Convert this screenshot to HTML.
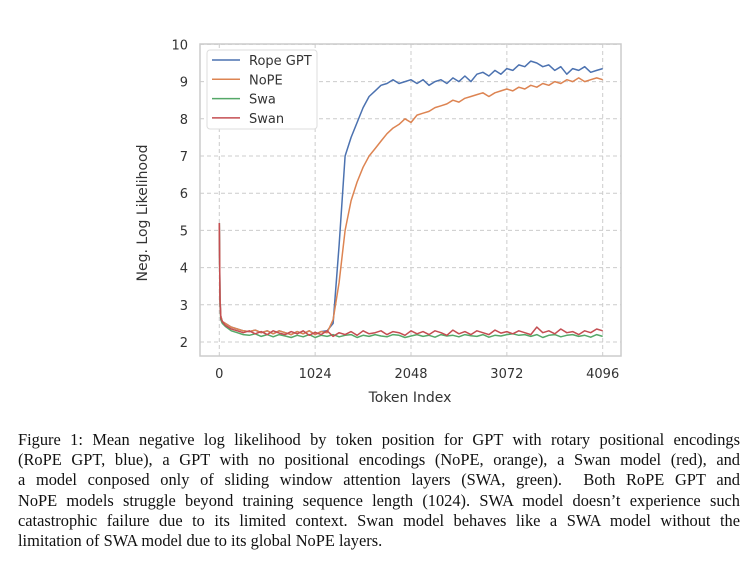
<!DOCTYPE html>
<html><head><meta charset="utf-8"><style>
body{margin:0;width:750px;height:563px;background:#fff;overflow:hidden;position:relative}
#cap{position:absolute;left:18px;top:430px;width:722px;font-family:"Liberation Serif",serif;font-size:16.4px;line-height:20.2px;color:#111}
#cap div{text-align:justify;text-align-last:justify;white-space:nowrap;overflow:visible}
#cap div.last{text-align-last:left}
</style></head><body>
<svg id="chart" width="750" height="420" style="position:absolute;left:0;top:0" font-family="DejaVu Sans, Liberation Sans, sans-serif"></svg>
<div id="cap">
<div>Figure 1: Mean negative log likelihood by token position for GPT with rotary positional encodings</div>
<div>(RoPE GPT, blue), a GPT with no positional encodings (NoPE, orange), a Swan model (red), and</div>
<div>a model conposed only of sliding window attention layers (SWA, green). &nbsp;Both RoPE GPT and</div>
<div>NoPE models struggle beyond training sequence length (1024). SWA model doesn’t experience such</div>
<div>catastrophic failure due to its limited context. Swan model behaves like a SWA model without the</div>
<div class="last">limitation of SWA model due to its global NoPE layers.</div>
</div>
<script>
const tokens=[0,8,16,32,64,128,192,256,320,384,448,512,576,640,704,768,832,896,960,1024,1088,1152,1216,1280,1344,1408,1472,1536,1600,1664,1728,1792,1856,1920,1984,2048,2112,2176,2240,2304,2368,2432,2496,2560,2624,2688,2752,2816,2880,2944,3008,3072,3136,3200,3264,3328,3392,3456,3520,3584,3648,3712,3776,3840,3904,3968,4032,4096];
const rope=[5.2,3.2,2.7,2.55,2.5,2.4,2.35,2.3,2.28,2.32,2.25,2.3,2.22,2.3,2.25,2.2,2.28,2.22,2.3,2.2,2.28,2.3,2.5,4.6,7.0,7.5,7.9,8.3,8.6,8.75,8.9,8.95,9.05,8.95,9.0,9.05,8.95,9.05,8.9,9.0,9.05,8.95,9.1,9.0,9.15,9.0,9.2,9.25,9.15,9.3,9.2,9.35,9.3,9.45,9.4,9.55,9.5,9.4,9.45,9.3,9.4,9.2,9.35,9.3,9.4,9.25,9.3,9.35];
const nope=[5.2,3.2,2.7,2.55,2.5,2.4,2.35,2.3,2.28,2.32,2.25,2.3,2.22,2.3,2.25,2.2,2.28,2.22,2.3,2.2,2.28,2.25,2.6,3.6,5.0,5.8,6.3,6.7,7.0,7.2,7.4,7.6,7.75,7.85,8.0,7.9,8.1,8.15,8.2,8.3,8.35,8.4,8.5,8.45,8.55,8.6,8.65,8.7,8.6,8.7,8.75,8.8,8.75,8.85,8.8,8.9,8.85,8.95,8.9,9.0,8.95,9.05,9.0,9.1,9.0,9.05,9.1,9.05];
const swa=[5.2,3.0,2.6,2.5,2.42,2.3,2.25,2.2,2.18,2.22,2.15,2.2,2.14,2.2,2.16,2.12,2.18,2.14,2.2,2.12,2.18,2.15,2.2,2.14,2.18,2.2,2.12,2.18,2.15,2.2,2.16,2.14,2.2,2.18,2.12,2.16,2.2,2.15,2.18,2.13,2.2,2.16,2.18,2.14,2.2,2.17,2.15,2.2,2.13,2.18,2.16,2.2,2.22,2.18,2.2,2.15,2.2,2.12,2.18,2.2,2.14,2.18,2.2,2.15,2.18,2.13,2.2,2.15];
const swan=[5.2,3.1,2.65,2.55,2.45,2.35,2.3,2.25,2.3,2.22,2.28,2.2,2.3,2.24,2.2,2.28,2.22,2.3,2.18,2.26,2.2,2.3,2.15,2.25,2.2,2.28,2.18,2.3,2.22,2.25,2.3,2.2,2.28,2.25,2.18,2.3,2.22,2.28,2.2,2.3,2.25,2.18,2.32,2.22,2.28,2.2,2.3,2.25,2.2,2.32,2.24,2.28,2.22,2.3,2.25,2.2,2.4,2.25,2.3,2.22,2.35,2.25,2.28,2.2,2.3,2.25,2.35,2.3];
const xTicks=[0,1024,2048,3072,4096];
const yTicks=[2,3,4,5,6,7,8,9,10];
const seriesNames=["Rope GPT","NoPE","Swa","Swan"];
const colors=["#4c72b0","#dd8452","#55a868","#c44e52"];
const svg=document.getElementById('chart');
const NS="http://www.w3.org/2000/svg";
const L=200,R=621,T=44,B=356;
const xs=v=>219.3+v/4096*383.4;
const ys=v=>342-(v-2)*37.2;
function mk(tag,attrs,parent){const e=document.createElementNS(NS,tag);for(const k in attrs)e.setAttribute(k,attrs[k]);(parent||svg).appendChild(e);return e;}
let e=mk('rect',{x:L,y:T,width:R-L,height:B-T,fill:'#fff',stroke:'#ccc','stroke-width':1.5});


xTicks.forEach(t=>{
 let g=mk('line',{x1:xs(t),x2:xs(t),y1:T,y2:B,stroke:'#ccc','stroke-dasharray':'4,3','stroke-width':1});
 
 
 let l=mk('text',{x:xs(t),y:B+22,'text-anchor':'middle','font-size':13,fill:'#333'});l.textContent=t;
 
 
});
yTicks.forEach(t=>{
 let g=mk('line',{x1:L,x2:R,y1:ys(t),y2:ys(t),stroke:'#ccc','stroke-dasharray':'4,3','stroke-width':1});
 
 
 let l=mk('text',{x:L-12,y:ys(t)+5,'text-anchor':'end','font-size':13,fill:'#333'});l.textContent=t;
 
 
});
let xt=mk('text',{x:410,y:402,'text-anchor':'middle','font-size':14,fill:'#333'});xt.textContent='Token Index';


let yt=mk('text',{x:0,y:0,transform:'translate(147,213) rotate(-90)','text-anchor':'middle','font-size':14,fill:'#333'});yt.textContent='Neg. Log Likelihood';


const data=[rope,nope,swa,swan];
[2,0,1,3].forEach(i=>{
 const d=tokens.map((t,j)=>(j?'L':'M')+xs(t).toFixed(1)+','+ys(data[i][j]).toFixed(1)).join('');
 let p=mk('path',{d:d,fill:'none',stroke:colors[i],'stroke-width':1.5,'stroke-linejoin':'round'});
 
 
});
let lg=mk('rect',{x:207,y:50,width:110,height:79,fill:'#fff',stroke:'#ddd',rx:3});


seriesNames.forEach((n,i)=>{
 const y=60+i*19.3;
 let s=mk('line',{x1:212,x2:240,y1:y,y2:y,stroke:colors[i],'stroke-width':1.5});
 
 
 let t=mk('text',{x:249,y:y+5,'font-size':13,fill:'#333'});t.textContent=n;
 
 
});
</script>
</body></html>
